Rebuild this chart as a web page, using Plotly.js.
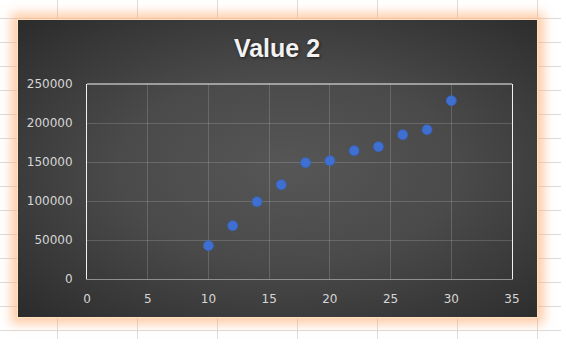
<!DOCTYPE html>
<html>
<head>
<meta charset="utf-8">
<script src="https://cdn.plot.ly/plotly-3.0.1.min.js"></script>
<style>
  html, body { margin: 0; padding: 0; width: 561px; height: 339px; overflow: hidden; }
  body {
    position: relative;
    background-color: #ffffff;
    background-image:
      linear-gradient(to right, #dcdcdc 1px, transparent 1px),
      linear-gradient(to bottom, #dcdcdc 1px, transparent 1px);
    background-size: 80px 24px;
    background-position: 57px 18px;
  }
  #box {
    position: absolute; left: 17px; top: 19px; width: 521px; height: 299px;
    box-sizing: border-box;
    border: 1px solid #ffe2bf;
    background: radial-gradient(ellipse at 52% 50%, #565656 0%, #4a4a4a 45%, #2b2b2b 100%);
    box-shadow: 0 0 10px 6px rgba(255, 170, 110, 0.6);
  }
  #chart { position: absolute; left: 0; top: 0; width: 561px; height: 339px; }
</style>
</head>
<body>
<div id="box"></div>
<div id="chart"></div>
<script>
const chartTitle = 'Value 2';
const xValues = [10, 12, 14, 16, 18, 20, 22, 24, 26, 28, 30];
const yValues = [42700, 68300, 99100, 120900, 149100, 151700, 164500, 169600, 185000, 191400, 228600];
const xTicks = [0, 5, 10, 15, 20, 25, 30, 35];
const yTicks = [0, 50000, 100000, 150000, 200000, 250000];

const tickFont = { family: 'DejaVu Sans, sans-serif', size: 12, color: '#d6d6d6' };

const trace = {
  type: 'scatter',
  mode: 'markers',
  x: xValues,
  y: yValues,
  marker: { size: 10, color: '#3f6fd0', line: { width: 0.8, color: '#3563bd' } },
  hoverinfo: 'x+y'
};

const layout = {
  width: 561, height: 339,
  margin: { l: 87, r: 49, t: 84, b: 60 },
  paper_bgcolor: 'rgba(0,0,0,0)',
  plot_bgcolor: 'rgba(0,0,0,0)',
  showlegend: false,
  title: {
    text: '<b>' + chartTitle + '</b>',
    font: { family: 'Liberation Sans, Arial, sans-serif', size: 25, color: '#f2f2f2', shadow: '1px 1px 3px rgba(0,0,0,0.6)' },
    x: 277 / 561, xref: 'container', xanchor: 'center',
    y: 1 - 48 / 339, yref: 'container', yanchor: 'middle'
  },
  xaxis: {
    range: [0, 35],
    tickvals: xTicks,
    ticktext: xTicks.map(String),
    showgrid: true, gridcolor: 'rgba(255,255,255,0.16)', gridwidth: 1,
    zeroline: false,
    showline: true, linecolor: '#8f8f8f', linewidth: 1,
    ticks: 'outside', ticklen: 9, tickcolor: 'rgba(0,0,0,0)',
    tickfont: tickFont,
    fixedrange: true
  },
  yaxis: {
    range: [0, 250000],
    tickvals: yTicks,
    ticktext: yTicks.map(String),
    showgrid: true, gridcolor: 'rgba(255,255,255,0.16)', gridwidth: 1,
    zeroline: false,
    showline: true, mirror: true, linecolor: '#f0f0f0', linewidth: 1,
    ticks: 'outside', ticklen: 11, tickcolor: 'rgba(0,0,0,0)',
    tickfont: tickFont,
    fixedrange: true
  },
  shapes: [
    { type: 'line', xref: 'paper', yref: 'paper', x0: 0, x1: 1, y0: 1, y1: 1, line: { color: '#f4f4f4', width: 1.2 } }
  ]
};

Plotly.newPlot('chart', [trace], layout, { displayModeBar: false, staticPlot: true });
</script>
</body>
</html>
